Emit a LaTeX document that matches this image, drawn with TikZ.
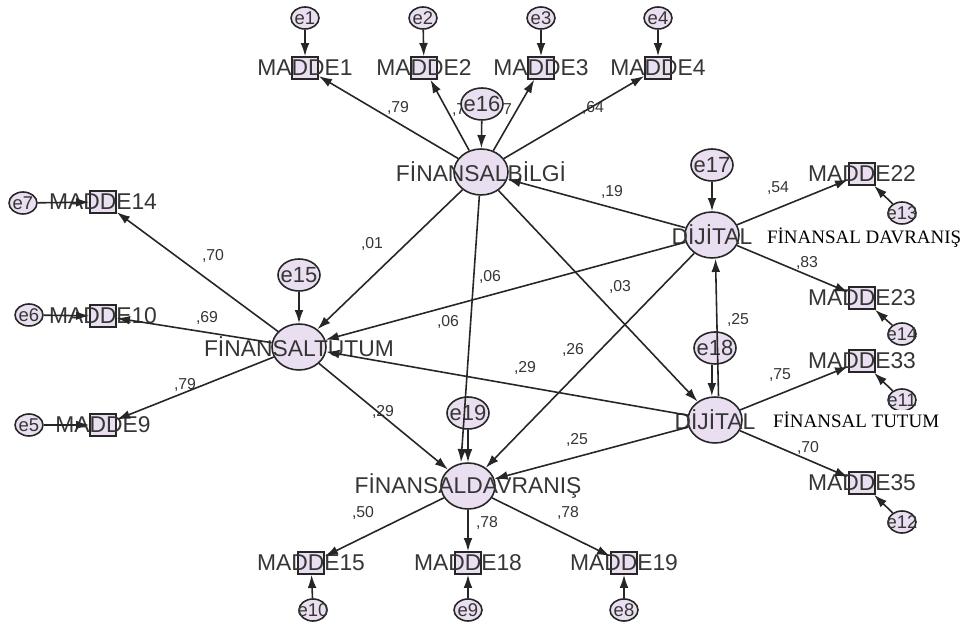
\documentclass[tikz,border=0pt]{standalone}
\usepackage{fontspec}
\setmainfont{Liberation Sans}
\newfontfamily\serifx{Liberation Serif}
\usetikzlibrary{shapes, positioning, arrows.meta}

\definecolor{lav}{HTML}{EADFF0}
\definecolor{ink}{HTML}{262626}
\definecolor{txt}{HTML}{363636}

\tikzset{
  vartext/.style={font=\fontsize{13}{13}\selectfont, text=txt, inner sep=0pt},
  lat/.style={ellipse, draw=ink, line width=0.9pt, fill=lav, minimum width=1.08cm, minimum height=0.92cm, inner sep=0pt, label={[vartext]center:#1}},
  errbig/.style={ellipse, draw=ink, line width=0.9pt, fill=lav, minimum width=0.84cm, minimum height=0.64cm, inner sep=0pt, label={[font=\fontsize{12.5}{12.5}\selectfont, text=txt, inner sep=0pt]center:#1}},
  errsm/.style={ellipse, draw=ink, line width=0.9pt, fill=lav, minimum width=0.56cm, minimum height=0.44cm, inner sep=0pt, label={[font=\fontsize{10.5}{10.5}\selectfont, text=txt, inner sep=0pt]center:#1}},
  obs/.style={rectangle, draw=ink, line width=0.9pt, fill=lav, minimum width=0.52cm, minimum height=0.44cm, inner sep=0pt, label={[vartext]center:#1}},
  coef/.style={font=\fontsize{9}{9}\selectfont, text=txt, inner sep=0pt},
  pth/.style={draw=ink, line width=0.9pt, -{Latex[length=7.5pt,width=5pt]}},
  overlay text/.style={font=\serifx\fontsize{10.8}{11}\selectfont, text=black, fill=white, inner sep=1pt, anchor=west},
}

\begin{document}
\begin{tikzpicture}[x=0.02cm, y=-0.02cm]
  \fill[white] (0,0) rectangle (968,628);
  \useasboundingbox (0,0) rectangle (968,628);

  % path coefficients
  \node[coef] at (398,108) {,79};
  \node[coef] at (463,110) {,78};
  \node[coef] at (501,110) {,77};
  \node[coef] at (593,108) {,64};
  \node[coef] at (612,192) {,19};
  \node[coef] at (372,244) {,01};
  \node[coef] at (490,277) {,06};
  \node[coef] at (448,322) {,06};
  \node[coef] at (620,287) {,03};
  \node[coef] at (573,350) {,26};
  \node[coef] at (525,368) {,29};
  \node[coef] at (738,320) {,25};
  \node[coef] at (383,412) {,29};
  \node[coef] at (577,440) {,25};
  \node[coef] at (213,256) {,70};
  \node[coef] at (207,318) {,69};
  \node[coef] at (185,385) {,79};
  \node[coef] at (778,188) {,54};
  \node[coef] at (807,263) {,83};
  \node[coef] at (780,375) {,75};
  \node[coef] at (808,448) {,70};
  \node[coef] at (363,513) {,50};
  \node[coef] at (487,523) {,78};
  \node[coef] at (568,513) {,78};

  % latent variables
  \node[lat=FİNANSALBİLGİ] (fb) at (481,172) {};
  \node[lat=FİNANSALTUTUM] (ft) at (299,347) {};
  \node[lat=FİNANSALDAVRANIŞ] (fd) at (468,486) {};
  \node[lat=DİJİTAL] (dijt) at (712,235) {};
  \node[lat=DİJİTAL] (dijb) at (715,420) {};

  % disturbances
  \node[errbig=e16] (e16) at (482,104) {};
  \node[errbig=e15] (e15) at (299,275) {};
  \node[errbig=e17] (e17) at (712,165) {};
  \node[errbig=e18] (e18) at (715,348) {};
  \node[errbig=e19] (e19) at (468,413) {};

  % indicators
  \node[obs=MADDE1] (m1) at (305,68) {};
  \node[obs=MADDE2] (m2) at (424,68) {};
  \node[obs=MADDE3] (m3) at (541,68) {};
  \node[obs=MADDE4] (m4) at (658,68) {};
  \node[obs=MADDE14] (m14) at (103,202) {};
  \node[obs=MADDE10] (m10) at (103,316) {};
  \node[obs=MADDE9] (m9) at (103,425) {};
  \node[obs=MADDE22] (m22) at (862,174) {};
  \node[obs=MADDE23] (m23) at (862,298) {};
  \node[obs=MADDE33] (m33) at (862,361) {};
  \node[obs=MADDE35] (m35) at (862,483) {};
  \node[obs=MADDE15] (m15) at (311,563) {};
  \node[obs=MADDE18] (m18) at (468,563) {};
  \node[obs=MADDE19] (m19) at (624,563) {};

  % measurement errors
  \node[errsm=e1] (e1) at (305,18) {};
  \node[errsm=e2] (e2) at (423,18) {};
  \node[errsm=e3] (e3) at (541,18) {};
  \node[errsm=e4] (e4) at (658,18) {};
  \node[errsm=e7] (e7) at (23,203) {};
  \node[errsm=e6] (e6) at (29,315) {};
  \node[errsm=e5] (e5) at (29,425) {};
  \node[errsm=e13] (e13) at (902,213) {};
  \node[errsm=e14] (e14) at (902,334) {};
  \node[errsm=e11] (e11) at (902,400) {};
  \node[errsm=e12] (e12) at (902,522) {};
  \node[errsm=e10] (e10) at (313,610) {};
  \node[errsm=e9] (e9) at (468,610) {};
  \node[errsm=e8] (e8) at (624,610) {};

  \path (e1) edge[pth] (m1)
      (e2) edge[pth] (m2)
      (e3) edge[pth] (m3)
      (e4) edge[pth] (m4)
      (e7) edge[pth] (m14)
      (e6) edge[pth] (m10)
      (e5) edge[pth] (m9)
      (e13) edge[pth] (m22)
      (e14) edge[pth] (m23)
      (e11) edge[pth] (m33)
      (e12) edge[pth] (m35)
      (e10) edge[pth] (m15)
      (e9) edge[pth] (m18)
      (e8) edge[pth] (m19);

  \path (fb) edge[pth] (m1)
      (fb) edge[pth] (m2)
      (fb) edge[pth] (m3)
      (fb) edge[pth] (m4)
      (ft) edge[pth] (m14)
      (ft) edge[pth] (m10)
      (ft) edge[pth] (m9)
      (dijt) edge[pth] (m22)
      (dijt) edge[pth] (m23)
      (dijb) edge[pth] (m33)
      (dijb) edge[pth] (m35)
      (fd) edge[pth] (m15)
      (fd) edge[pth] (m18)
      (fd) edge[pth] (m19);

  \path (e16) edge[pth] (fb)
      (e15) edge[pth] (ft)
      (e17) edge[pth] (dijt)
      (e19) edge[pth] (fd)
      ([xshift=-1.8pt]e18.south) edge[pth] ([xshift=-1.8pt]dijb.north)
      ([xshift=2pt]dijb.north) edge[pth] ([xshift=2pt]dijt.south);

  \path (fb) edge[pth] (ft)
      (fb) edge[pth] ([xshift=-4pt]fd.north)
      (fb) edge[pth] (dijb)
      (dijt) edge[pth] (fb)
      (dijt) edge[pth] (ft)
      (dijt) edge[pth] (fd)
      (dijb) edge[pth] (ft)
      (dijb) edge[pth] (fd)
      (ft) edge[pth] (fd);

  \node[overlay text] (lbldav) at (765,238) {FİNANSAL DAVRANIŞ};
  \node[overlay text] (lbltut) at (771,420) {FİNANSAL TUTUM};
\end{tikzpicture}
\end{document}
